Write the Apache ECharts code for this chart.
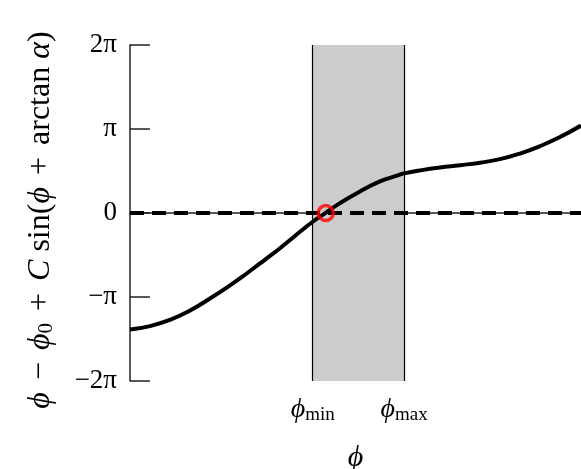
<!DOCTYPE html>
<html>
<head>
<meta charset="utf-8">
<script src="https://cdn.jsdelivr.net/npm/echarts@6/dist/echarts.min.js"></script>
<style>html,body{margin:0;padding:0;background:#fff}#c{width:581px;height:469px}</style>
</head>
<body>
<div id="c"></div>
<script>
// phi values (radians, from the left edge of the plot)
const phiX = [0, 0.331, 0.661, 0.992, 1.322, 1.653, 1.901, 2.149, 2.314, 2.479, 2.645, 2.810, 3.025, 3.240, 3.471, 3.802, 4.132, 4.413, 4.529, 4.793, 5.124, 5.455, 5.785, 6.116, 6.446, 6.777, 7.107, 7.455];
// curve values in units of pi
const curveY = [-1.388, -1.347, -1.272, -1.162, -1.018, -0.862, -0.735, -0.600, -0.511, -0.419, -0.322, -0.224, -0.101, 0.005, 0.118, 0.257, 0.376, 0.444, 0.472, 0.507, 0.542, 0.569, 0.599, 0.641, 0.707, 0.796, 0.904, 1.041];
const zeroLineX = [0, 7.455];
const zeroLineY = [0, 0];
const shadeRange = [3.025, 4.529]; // phi_min, phi_max
const rootPoint = [3.236, 0];
const yTickLabels = {'-2': '−2π', '-1': '−π', '0': '0', '1': 'π', '2': '2π'};

const serif = 'Liberation Serif';
const chart = echarts.init(document.getElementById('c'));
chart.setOption({
  animation: false,
  backgroundColor: '#fff',
  grid: {left: 130, right: 0, top: 45, bottom: 88, outerBoundsMode: 'none', containLabel: false},
  xAxis: {
    type: 'value', min: 0, max: 7.455,
    axisLine: {lineStyle: {color: '#222', width: 1.5}},
    axisTick: {show: false}, axisLabel: {show: false}, splitLine: {show: false},
    name: '{i|ϕ}', nameLocation: 'middle', nameGap: 62,
    nameTextStyle: {rich: {i: {fontFamily: serif, fontStyle: 'italic', fontSize: 30, color: '#000'}}}
  },
  yAxis: {
    type: 'value', min: -2, max: 2, interval: 1,
    axisLine: {show: true, lineStyle: {color: '#222', width: 1.5}},
    axisTick: {show: true, inside: true, length: 20, lineStyle: {color: '#222', width: 1.5}},
    axisLabel: {
      margin: 13, fontFamily: serif, fontSize: 27, color: '#000',
      formatter: v => yTickLabels[String(Math.round(v))]
    },
    splitLine: {show: false},
    name: '{i|ϕ}{o|−}{i|ϕ}{s|0}{o|+}{i|C} sin({i|ϕ}{o|+}arctan {i|α})',
    nameLocation: 'middle', nameGap: 73, nameRotate: 90,
    nameTextStyle: {
      fontFamily: serif, fontSize: 32, color: '#000',
      padding: [0, 14, 0, 0],
      rich: {
        i: {fontFamily: serif, fontStyle: 'italic', fontSize: 32, color: '#000'},
        o: {fontFamily: serif, fontSize: 32, color: '#000', padding: [0, 12, 0, 12]},
        s: {fontFamily: serif, fontSize: 21, color: '#000', padding: [10, 0, 0, 0]}
      }
    }
  },
  series: [
    {
      type: 'line', silent: true, symbol: 'none',
      data: zeroLineX.map((x, i) => [x, zeroLineY[i]]),
      lineStyle: {color: '#000', width: 3.8, type: [14, 8]},
      z: 3,
      markArea: {
        silent: true,
        itemStyle: {color: '#cccccc', borderWidth: 0},
        data: [[{xAxis: shadeRange[0]}, {xAxis: shadeRange[1]}]]
      },
      markLine: {
        silent: true, symbol: 'none',
        lineStyle: {color: '#000', width: 1.2, type: 'solid'},
        label: {
          show: true, position: 'start', distance: 14,
          formatter: p => p.dataIndex === 0 ? '{i|ϕ}{s|min}' : '{i|ϕ}{s|max}',
          rich: {
            i: {fontFamily: serif, fontStyle: 'italic', fontSize: 28, color: '#000'},
            s: {fontFamily: serif, fontSize: 19, color: '#000', padding: [11, 0, 0, 0]}
          }
        },
        data: [{xAxis: shadeRange[0]}, {xAxis: shadeRange[1]}]
      }
    },
    {
      type: 'line', silent: true, symbol: 'none', smooth: true,
      data: phiX.map((x, i) => [x, curveY[i]]),
      lineStyle: {color: '#000', width: 4},
      z: 4
    },
    {
      type: 'scatter', silent: true,
      data: [rootPoint],
      symbol: 'circle', symbolSize: 15,
      itemStyle: {color: 'rgba(0,0,0,0)', borderColor: '#ff0000', borderWidth: 3.5},
      z: 5
    }
  ]
});
</script>
</body>
</html>
